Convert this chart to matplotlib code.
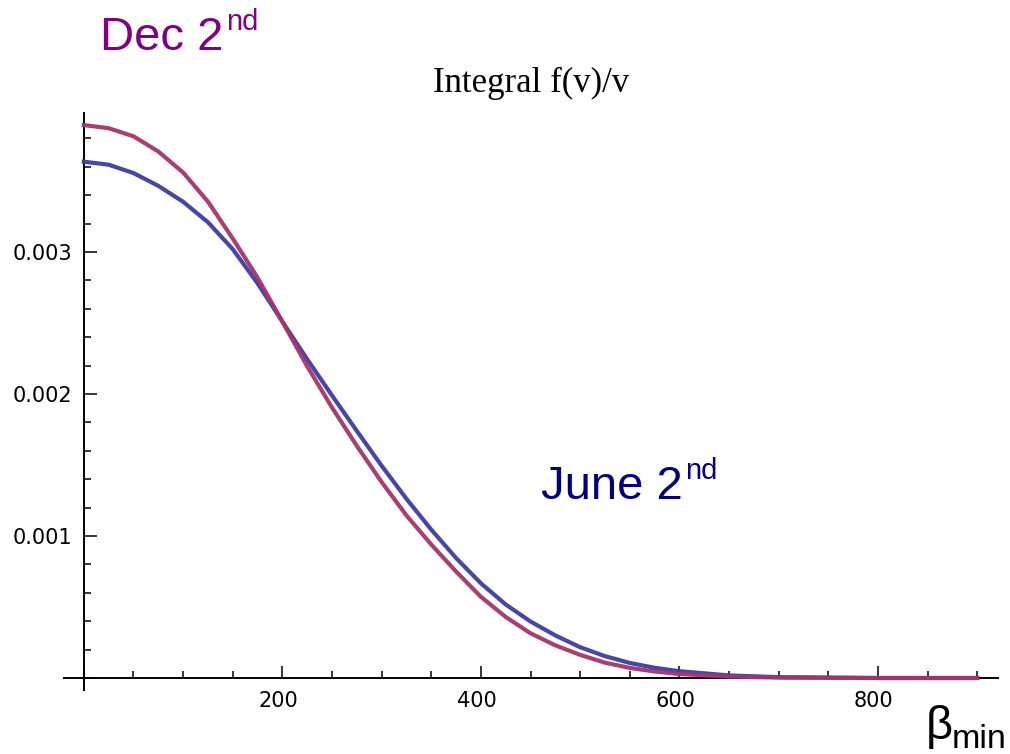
import matplotlib.pyplot as plt
import matplotlib.transforms as mtransforms
from matplotlib.ticker import FixedLocator, MultipleLocator, FormatStrFormatter

# values (y in units of 1e-3)
beta_min = [0, 25, 50, 75, 100, 125, 150, 175, 200, 225, 250, 275, 300,
            325, 350, 375, 400, 425, 450, 475, 500, 525, 550, 575, 600,
            650, 700, 800, 900]
dec_2nd = [3.894, 3.872, 3.815, 3.708, 3.560, 3.355, 3.095, 2.820, 2.510,
           2.195, 1.905, 1.635, 1.380, 1.145, 0.940, 0.750, 0.572, 0.430,
           0.315, 0.230, 0.163, 0.108, 0.071, 0.046, 0.028, 0.010, 0.003,
           0.0, 0.0]
june_2nd = [3.636, 3.615, 3.556, 3.466, 3.354, 3.210, 3.020, 2.780, 2.510,
            2.245, 1.990, 1.740, 1.495, 1.262, 1.045, 0.845, 0.667, 0.518,
            0.398, 0.300, 0.217, 0.154, 0.106, 0.072, 0.048, 0.018, 0.006,
            0.0, 0.0]

dec_2nd = [v * 1e-3 for v in dec_2nd]
june_2nd = [v * 1e-3 for v in june_2nd]

W, H = 1010, 754
fig = plt.figure(figsize=(W / 100, H / 100), dpi=100)
ax = fig.add_axes([64 / W, 1 - 690 / H, (998 - 64) / W, (690 - 113) / H])
ax.set_xlim(-20, 921)
ax.set_ylim(-0.0000845, 0.003979)

ax.plot(beta_min, june_2nd, color='#3c3ca5', lw=3.0, alpha=0.95, zorder=3)
ax.plot(beta_min, dec_2nd, color='#a5336b', lw=3.0, alpha=0.95, zorder=4)

for side in ['top', 'right']:
    ax.spines[side].set_visible(False)
ax.spines['left'].set_position(('data', 0))
ax.spines['bottom'].set_position(('data', 0))
for side in ['left', 'bottom']:
    ax.spines[side].set_linewidth(1.4)

ax.xaxis.set_major_locator(FixedLocator([200, 400, 600, 800]))
ax.xaxis.set_minor_locator(MultipleLocator(50))
ax.xaxis.set_major_formatter(FormatStrFormatter('%d'))
ax.yaxis.set_major_locator(FixedLocator([0.001, 0.002, 0.003]))
ax.yaxis.set_minor_locator(MultipleLocator(0.0002))
ax.yaxis.set_major_formatter(FormatStrFormatter('%.3f'))

ax.tick_params(which='both', direction='in', width=1.1, color='black',
               labelsize=15)
ax.tick_params(which='major', length=9)
ax.tick_params(which='minor', length=5)
ax.tick_params(axis='x', pad=9)
ax.tick_params(axis='y', pad=8)

offset = mtransforms.ScaledTranslation(-4 / 100, 0, fig.dpi_scale_trans)
for t in ax.xaxis.get_major_ticks():
    t.label1.set_transform(t.label1.get_transform() + offset)

fig.text(531 / W, 1 - 92 / H, 'Integral f(v)/v', family='Liberation Serif',
         fontsize=25, ha='center', va='baseline')

fig.text(100 / W, 1 - 50 / H, 'Dec 2', color='#800080', fontsize=34,
         family='Liberation Sans', va='baseline')
fig.text(226 / W, 1 - 30 / H, 'nd', color='#800080', fontsize=21,
         family='Liberation Sans', va='baseline')

fig.text(541 / W, 1 - 499 / H, 'June 2', color='#000080', fontsize=34,
         family='Liberation Sans', va='baseline')
fig.text(685 / W, 1 - 479 / H, 'nd', color='#000080', fontsize=21,
         family='Liberation Sans', va='baseline')

fig.text(926 / W, 1 - 739 / H, 'β', fontsize=34, family='Liberation Sans',
         va='baseline')
fig.text(952 / W, 1 - 748 / H, 'min', fontsize=24.5, family='Liberation Sans',
         va='baseline')

fig.savefig('out.png', dpi=100)
